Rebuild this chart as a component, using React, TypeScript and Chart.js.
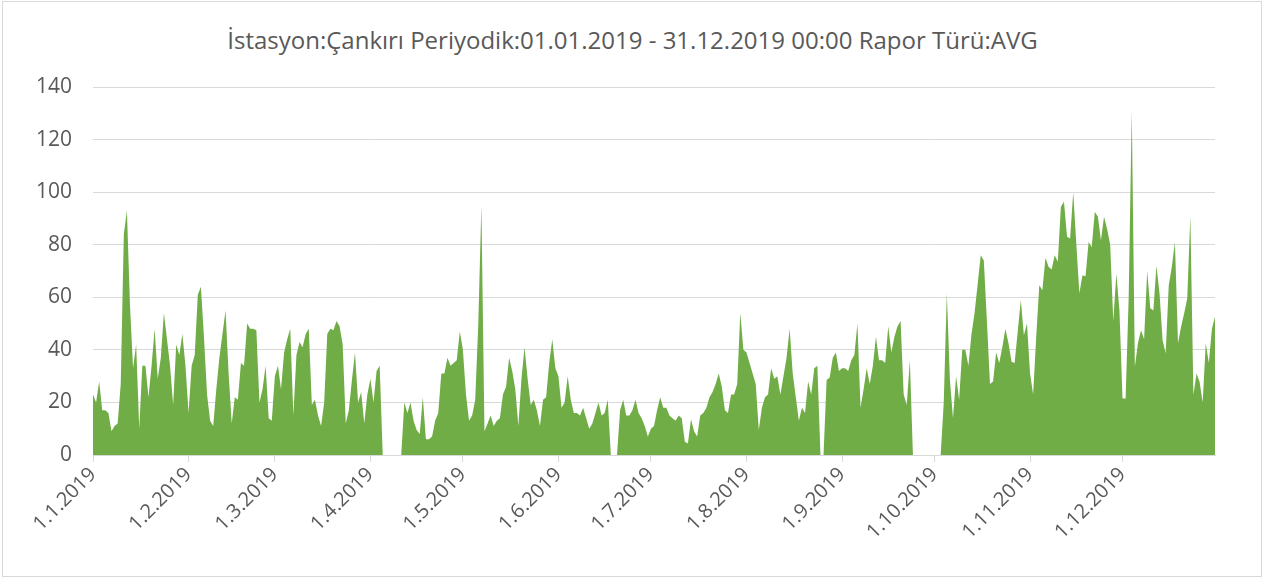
import React, { useEffect, useRef } from "react";
import { Chart, registerables } from "chart.js";

Chart.register(...registerables);

// Daily averages, 2019 (0 = missing day, plotted as zero like the source chart)
const jan = [23, 20, 28, 17, 17, 16, 9, 11, 12, 27, 84, 93, 57, 33, 42, 10, 34, 34, 22, 34, 48, 29, 37, 54, 44, 34, 19, 42, 38, 46, 34];
const feb = [16, 34, 38, 61, 64, 45, 23, 13, 11, 25, 37, 46, 55, 31, 12, 22, 21, 35, 34, 50, 48, 48, 47.5, 20, 25, 34, 14, 13];
const mar = [30, 34, 25, 39, 44, 48, 15, 38, 43, 41, 46, 48, 19, 21, 15, 11, 20, 46, 48, 47.5, 51, 49, 42, 12, 17, 28.5, 39, 20, 24, 12, 23];
const apr = [29, 20, 32, 34, 0, 0, 0, 0, 0, 0, 0, 20, 16, 20, 13, 9.5, 8, 22, 6, 6, 7, 13, 16, 31, 31, 37, 34, 35, 36, 47];
const may = [40, 23, 13, 15, 21, 50, 95, 9, 12, 15, 11, 13, 14, 23, 26, 37, 32, 25, 11, 29, 41, 29, 19, 21, 17, 11, 21, 22, 35, 44, 33];
const jun = [30, 18, 20, 30, 21, 16, 16, 15, 18, 14, 10, 12, 16, 20, 15, 16, 21, 0, 0, 0, 17, 21, 15, 15, 17, 21, 16, 14, 11, 7];
const jul = [10, 11, 17, 22, 18, 18, 15, 14, 13, 15, 14, 5, 4.4, 13.6, 9, 7, 15, 16, 18, 22, 24, 27, 31, 26, 17, 16, 23, 23, 27, 54, 40];
const aug = [39, 35, 31, 27, 9.5, 18, 22, 23, 33, 29, 30, 23, 30, 37, 48, 31, 22, 13, 18, 16, 28, 23, 33, 34, 0, 0, 28.5, 29.5, 37, 39, 32];
const sep = [33, 33, 32, 36, 38, 50, 18, 25, 33, 27, 34, 45, 36, 36, 35, 49, 39, 45, 49, 51, 23, 19, 36, 0, 0, 0, 0, 0, 0, 0];
const oct = [0, 0, 0, 20, 61.5, 28.5, 14, 30, 21, 40, 40, 34, 46, 54, 65, 76, 74, 51, 27, 28, 39, 35, 41, 48, 42.5, 35.5, 35, 47, 59, 45.6, 50];
const nov = [31, 23, 45, 64.6, 62.7, 75, 71.6, 70.6, 76, 73.5, 94.4, 96.3, 83, 82.4, 100, 80.5, 61.5, 68.4, 68, 81, 79, 92.5, 90.6, 81.7, 90.6, 86, 80, 51, 69, 55];
const dec = [21.5, 21.5, 60, 131, 33.6, 42.5, 47.5, 44, 70, 55.8, 55, 72, 61.5, 43.7, 38.7, 64.6, 71.6, 81, 42.5, 48.8, 53.9, 59.6, 91, 22.8, 31, 27.9, 20, 42.5, 35, 48, 52.6];

const monthStarts = [0, 31, 59, 90, 120, 151, 181, 212, 243, 273, 304, 334];
const monthLabels = ["1.1.2019", "1.2.2019", "1.3.2019", "1.4.2019", "1.5.2019", "1.6.2019", "1.7.2019", "1.8.2019", "1.9.2019", "1.10.2019", "1.11.2019", "1.12.2019"];
const yTicks = [0, 20, 40, 60, 80, 100, 120, 140];
const titleText = "İstasyon:Çankırı Periyodik:01.01.2019 - 31.12.2019 00:00 Rapor Türü:AVG";

const FONT = "'Open Sans', 'Noto Sans', sans-serif";

export default function App() {
  const ref = useRef<HTMLCanvasElement>(null);

  useEffect(() => {
    const values = [...jan, ...feb, ...mar, ...apr, ...may, ...jun, ...jul, ...aug, ...sep, ...oct, ...nov, ...dec];
    const points = values.map((v, i) => ({ x: i, y: v }));
    const chart = new Chart(ref.current as HTMLCanvasElement, {
      type: "line",
      data: {
        datasets: [
          {
            data: points,
            fill: "origin",
            backgroundColor: "#70AD47",
            borderColor: "#70AD47",
            borderWidth: 0,
            pointRadius: 0,
            tension: 0,
          },
        ],
      },
      options: {
        animation: false,
        responsive: false,
        layout: { padding: { left: 0, right: 50, top: 87, bottom: 23 } },
        plugins: {
          legend: { display: false },
          tooltip: { enabled: false },
          title: { display: false },
        },
        scales: {
          x: {
            type: "linear",
            min: 0,
            max: 364,
            afterBuildTicks: (s: any) => {
              s.ticks = monthStarts.map((v) => ({ value: v }));
            },
            afterFit: (s: any) => {
              s.height = 100;
            },
            grid: { drawOnChartArea: false, color: "#d9d9d9", tickLength: 7 },
            border: { display: true, color: "#d9d9d9" },
            ticks: {
              autoSkip: false,
              maxRotation: 45,
              minRotation: 45,
              padding: 1,
              color: "#595959",
              font: { family: FONT, size: 20 },
              callback: (v: any) => {
                const i = monthStarts.indexOf(Number(v));
                return i >= 0 ? monthLabels[i] : "";
              },
            },
          },
          y: {
            min: 0,
            max: 140,
            afterBuildTicks: (s: any) => {
              s.ticks = yTicks.map((v) => ({ value: v }));
            },
            afterFit: (s: any) => {
              s.width = 93;
            },
            grid: { color: "#d9d9d9", drawTicks: false },
            border: { display: false },
            ticks: {
              padding: 21,
              color: "#595959",
              font: { family: FONT, size: 21 },
            },
          },
        },
      },
    } as any);
    return () => chart.destroy();
  }, []);

  return (
    <div style={{ position: "absolute", left: 0, top: 0, width: 1265, height: 578, background: "#fff" }}>
      <div
        style={{
          position: "absolute",
          left: 2,
          top: 1,
          width: 1258,
          height: 574,
          border: "1px solid #d9d9d9",
        }}
      />
      <div
        style={{
          position: "absolute",
          left: 0,
          top: 25,
          width: 1265,
          textAlign: "center",
          fontFamily: FONT,
          fontSize: 24,
          lineHeight: "30px",
          color: "#595959",
        }}
      >
        {titleText}
      </div>
      <canvas ref={ref} width={1265} height={578} style={{ position: "absolute", left: 0, top: 0 }} />
    </div>
  );
}
